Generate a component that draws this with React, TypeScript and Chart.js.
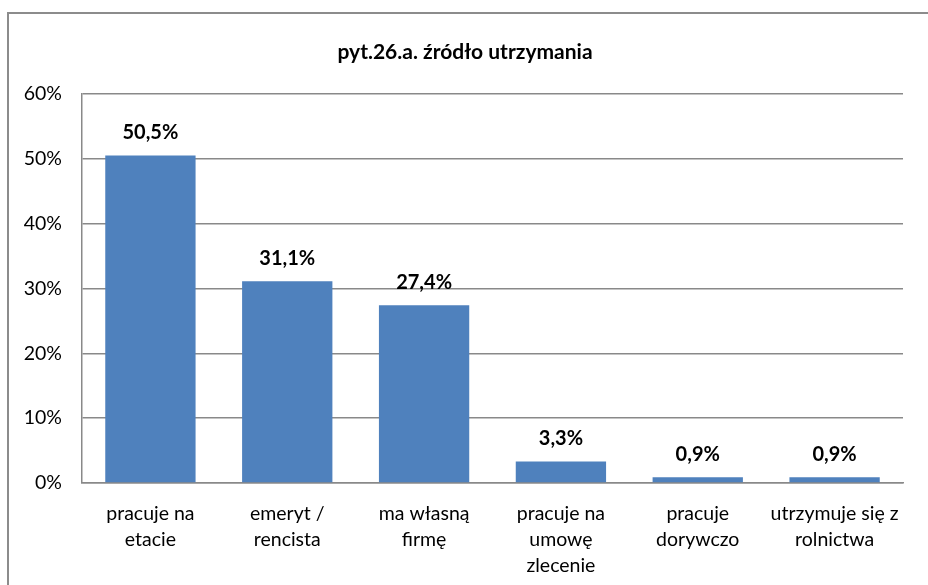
import React, { useEffect, useRef } from "react";
import { Chart, registerables } from "chart.js";

Chart.register(...registerables);

const title = "pyt.26.a. źródło utrzymania";
const categories: string[][] = [
  ["pracuje na", "etacie"],
  ["emeryt /", "rencista"],
  ["ma własną", "firmę"],
  ["pracuje na", "umowę", "zlecenie"],
  ["pracuje", "dorywczo"],
  ["utrzymuje się z", "rolnictwa"],
];
const values = [50.5, 31.1, 27.4, 3.3, 0.9, 0.9];
const yMin = 0;
const yMax = 60;
const yStep = 10;

const FONT = "Lato, 'Open Sans', sans-serif";
const BAR_COLOR = "#4F81BD";
const GRID_COLOR = "#898989";

const fmt = (v: number) => v.toFixed(1).replace(".", ",") + "%";

const framePlugin = {
  id: "frame",
  beforeDraw(chart: any) {
    const ctx = chart.ctx;
    ctx.save();
    ctx.fillStyle = "#ffffff";
    ctx.fillRect(0, 0, chart.width, chart.height);
    ctx.fillStyle = "#8c8c8c";
    ctx.fillRect(7, 12, 2, chart.height);
    ctx.fillRect(7, 12, chart.width, 2);
    ctx.restore();
  },
  afterDraw(chart: any) {
    const ctx = chart.ctx;
    ctx.save();
    ctx.fillStyle = "#000";
    ctx.font = `bold 21px ${FONT}`;
    ctx.textAlign = "center";
    ctx.textBaseline = "middle";
    ctx.fillText(title, 465, 52);
    ctx.restore();
  },
};

const labelPlugin = {
  id: "barLabels",
  afterDatasetsDraw(chart: any) {
    const ctx = chart.ctx;
    const meta = chart.getDatasetMeta(0);
    ctx.save();
    ctx.fillStyle = "#000";
    ctx.font = `bold 20px ${FONT}`;
    ctx.textAlign = "center";
    ctx.textBaseline = "middle";
    meta.data.forEach((bar: any, i: number) => {
      ctx.fillText(fmt(values[i]), bar.x, bar.y - 23);
    });
    ctx.restore();
  },
};

export default function App() {
  const ref = useRef<HTMLCanvasElement | null>(null);
  useEffect(() => {
    if (!ref.current) return;
    const chart = new Chart(ref.current, {
      type: "bar",
      data: {
        labels: categories,
        datasets: [
          {
            data: values,
            backgroundColor: BAR_COLOR,
            borderWidth: 0,
            categoryPercentage: 0.66,
            barPercentage: 1,
          },
        ],
      },
      options: {
        responsive: false,
        animation: false,
        layout: { padding: { top: 94, right: 25, bottom: 0, left: 0 } },
        plugins: {
          legend: { display: false },
          title: { display: false },
          tooltip: { enabled: false },
        },
        scales: {
          x: {
            grid: { display: false, drawTicks: false },
            border: { display: true, color: GRID_COLOR, width: 1.5 },
            ticks: {
              color: "#000",
              font: { family: FONT, size: 19.5, lineHeight: "26px" },
              padding: 18,
              maxRotation: 0,
              autoSkip: false,
            },
            afterFit(scale: any) {
              scale.height = 102;
            },
          },
          y: {
            min: yMin,
            max: yMax,
            grid: { color: GRID_COLOR, lineWidth: 1.5, drawTicks: false },
            border: { display: true, color: GRID_COLOR, width: 1.5 },
            ticks: {
              stepSize: yStep,
              color: "#000",
              font: { family: FONT, size: 19.5 },
              padding: 20,
              callback: (v: any) => v + "%",
            },
            afterFit(scale: any) {
              scale.width = 82;
            },
          },
        },
      },
      plugins: [framePlugin, labelPlugin],
    });
    return () => chart.destroy();
  }, []);
  return (
    <div style={{ position: "absolute", left: 0, top: 0, width: 928, height: 585, overflow: "hidden" }}>
      <canvas ref={ref} width={928} height={585} style={{ display: "block" }} />
    </div>
  );
}
